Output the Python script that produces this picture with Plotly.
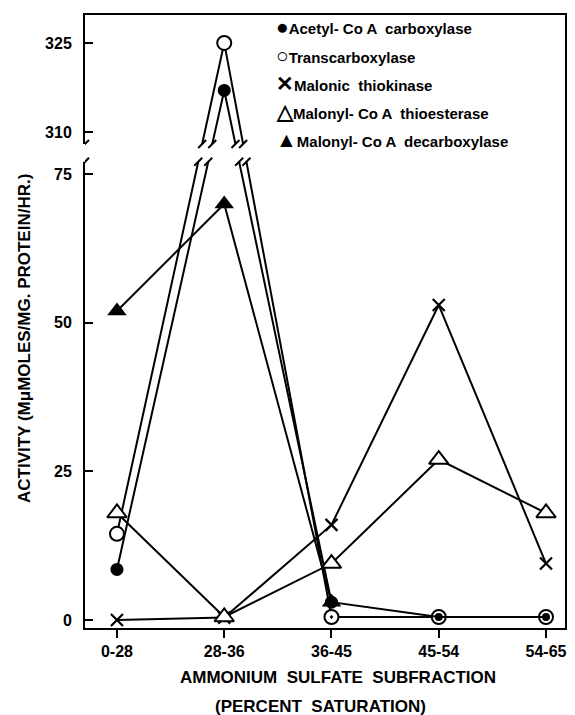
import plotly.graph_objects as go

# ---------------- data ----------------
categories = ["0-28", "28-36", "36-45", "45-54", "54-65"]
acetyl_coa_carboxylase = [8.5, 317, 3, 0.5, 0.5]
transcarboxylase = [14.5, 325, 0.5, 0.5, 0.5]
malonic_thiokinase = [0, 0.4, 16, 53, 9.5]
malonyl_thioesterase = [18, 0.5, 9.5, 27, 18]
malonyl_decarboxylase = [52, 70, 3]
y_ticks_lower = [0, 25, 50, 75]
y_ticks_upper = [310, 325]
series_names = ["Acetyl- Co A  carboxylase", "Transcarboxylase", "Malonic  thiokinase",
                "Malonyl- Co A  thioesterase", "Malonyl- Co A  decarboxylase"]
legend_glyphs = ["●", "○", "✕", "△", "▲"]

# ---------------- broken-axis transform ----------------
GAP_LO, GAP_HI = 77.1, 80.1      # displayed gap between the two axis sections
OFFSET = 227.9                    # subtracted from values in the upper section
Y_RANGE = [-1.35, 101.8]
X_RANGE = [-0.298, 4.177]


def disp(v):
    return v - OFFSET if v > 200 else v


def tr(vals):
    return [disp(v) for v in vals]


xs = list(range(len(categories)))
FONT = "Liberation Sans"
BLACK = "#000000"

# page has an 8px body margin -> figure is offset by 8px
PAGE_OFF = 8
W, H = 575 - PAGE_OFF, 715 - PAGE_OFF
PLOT_L, PLOT_R, PLOT_T, PLOT_B = 85, 565, 13, 628  # in screen pixels

fig = go.Figure()

common_line = dict(color=BLACK, width=2)

fig.add_trace(go.Scatter(
    x=xs, y=tr(transcarboxylase), mode="lines+markers", line=common_line,
    marker=dict(symbol=["circle", "circle", "circle-dot", "circle-dot", "circle-dot"],
                size=14, color="white", opacity=1, line=dict(color=BLACK, width=2)),
    showlegend=False, cliponaxis=False))
fig.add_trace(go.Scatter(
    x=xs, y=tr(acetyl_coa_carboxylase), mode="lines+markers", line=common_line,
    marker=dict(symbol="circle", size=[13, 13, 13, 8, 8], color=BLACK, opacity=1,
                line=dict(color=BLACK, width=0)),
    showlegend=False, cliponaxis=False))
fig.add_trace(go.Scatter(
    x=xs, y=malonic_thiokinase, mode="lines+markers", line=common_line,
    marker=dict(symbol="x-thin-open", size=12, color=BLACK, line=dict(color=BLACK, width=2.2)),
    showlegend=False, cliponaxis=False))
fig.add_trace(go.Scatter(
    x=xs, y=malonyl_thioesterase, mode="lines+markers", line=common_line,
    marker=dict(symbol="triangle-up", size=17, color="white", opacity=1,
                line=dict(color=BLACK, width=2)),
    showlegend=False, cliponaxis=False))
fig.add_trace(go.Scatter(
    x=xs[:len(malonyl_decarboxylase)], y=malonyl_decarboxylase, mode="lines+markers",
    line=common_line,
    marker=dict(symbol="triangle-up", size=17, color=BLACK, opacity=1),
    showlegend=False, cliponaxis=False))

# ---------------- axis break ----------------
PX_X = (PLOT_R - PLOT_L) / (X_RANGE[1] - X_RANGE[0])
PX_Y = (PLOT_B - PLOT_T) / (Y_RANGE[1] - Y_RANGE[0])
shapes = [dict(type="rect", xref="x domain", yref="y", x0=-0.02, x1=0.9,
               y0=GAP_LO, y1=GAP_HI, fillcolor="white", line=dict(width=0), layer="above")]


def mark(x, y):
    dx, dy = 4 / PX_X, 4 / PX_Y
    shapes.append(dict(type="line", xref="x", yref="y", x0=x - dx, y0=y - dy,
                       x1=x + dx, y1=y + dy, line=dict(color=BLACK, width=2), layer="above"))


for series in (transcarboxylase, acetyl_coa_carboxylase):
    ys = tr(series)
    for i in range(len(ys) - 1):
        y0, y1 = ys[i], ys[i + 1]
        if (y0 < GAP_LO and y1 > GAP_HI) or (y1 < GAP_LO and y0 > GAP_HI):
            for lvl in (GAP_LO, GAP_HI):
                xc = i + (lvl - y0) / (y1 - y0)
                mark(xc, lvl)
mark(X_RANGE[0], GAP_LO)
mark(X_RANGE[0], GAP_HI)


# ---------------- annotations ----------------
def px(xpix):
    return (xpix - PLOT_L) / (PLOT_R - PLOT_L)


def py(ypix):
    return (PLOT_B - ypix) / (PLOT_B - PLOT_T)


annotations = []
legend_rows = [25, 54, 82, 110, 138]
for g, name, row in zip(legend_glyphs, series_names, legend_rows):
    annotations.append(dict(xref="paper", yref="paper", x=px(274), y=py(row),
                            xanchor="left", yanchor="middle", showarrow=False,
                            text="<span style='font-size:21px'>" + g + "</span>" + name,
                            font=dict(family=FONT, size=15, color=BLACK, weight="bold")))

annotations.append(dict(xref="paper", yref="paper", x=px(338), y=py(678),
                        xanchor="center", yanchor="middle", showarrow=False,
                        text="AMMONIUM  SULFATE  SUBFRACTION",
                        font=dict(family=FONT, size=17, color=BLACK, weight="bold")))
annotations.append(dict(xref="paper", yref="paper", x=px(320), y=py(707),
                        xanchor="center", yanchor="middle", showarrow=False,
                        text="(PERCENT  SATURATION)",
                        font=dict(family=FONT, size=17, color=BLACK, weight="bold")))
annotations.append(dict(xref="paper", yref="paper", x=px(25), y=py(338),
                        xanchor="center", yanchor="middle", showarrow=False, textangle=-90,
                        text="ACTIVITY (MμMOLES/MG. PROTEIN/HR.)",
                        font=dict(family=FONT, size=17, color=BLACK, weight="bold")))

fig.update_layout(
    width=W, height=H,
    margin=dict(l=PLOT_L - PAGE_OFF, r=W - (PLOT_R - PAGE_OFF),
                t=PLOT_T - PAGE_OFF, b=H - (PLOT_B - PAGE_OFF), pad=0),
    paper_bgcolor="white", plot_bgcolor="white",
    showlegend=False,
    shapes=shapes,
    annotations=annotations,
    xaxis=dict(range=X_RANGE, tickvals=xs, ticktext=categories,
               showgrid=False, zeroline=False, showline=True, linecolor=BLACK, linewidth=2,
               mirror=True, ticks="outside", ticklen=8, tickwidth=2, tickcolor=BLACK,
               tickfont=dict(family=FONT, size=16, color=BLACK, weight="bold")),
    yaxis=dict(range=Y_RANGE,
               tickvals=y_ticks_lower + [disp(v) for v in y_ticks_upper],
               ticktext=[str(v) for v in y_ticks_lower + y_ticks_upper],
               showgrid=False, zeroline=False, showline=True, linecolor=BLACK, linewidth=2,
               mirror=True, ticks="inside", ticklen=8, tickwidth=2, tickcolor=BLACK,
               ticklabelstandoff=8,
               tickfont=dict(family=FONT, size=16, color=BLACK, weight="bold")),
)

fig.write_html("out.html")
